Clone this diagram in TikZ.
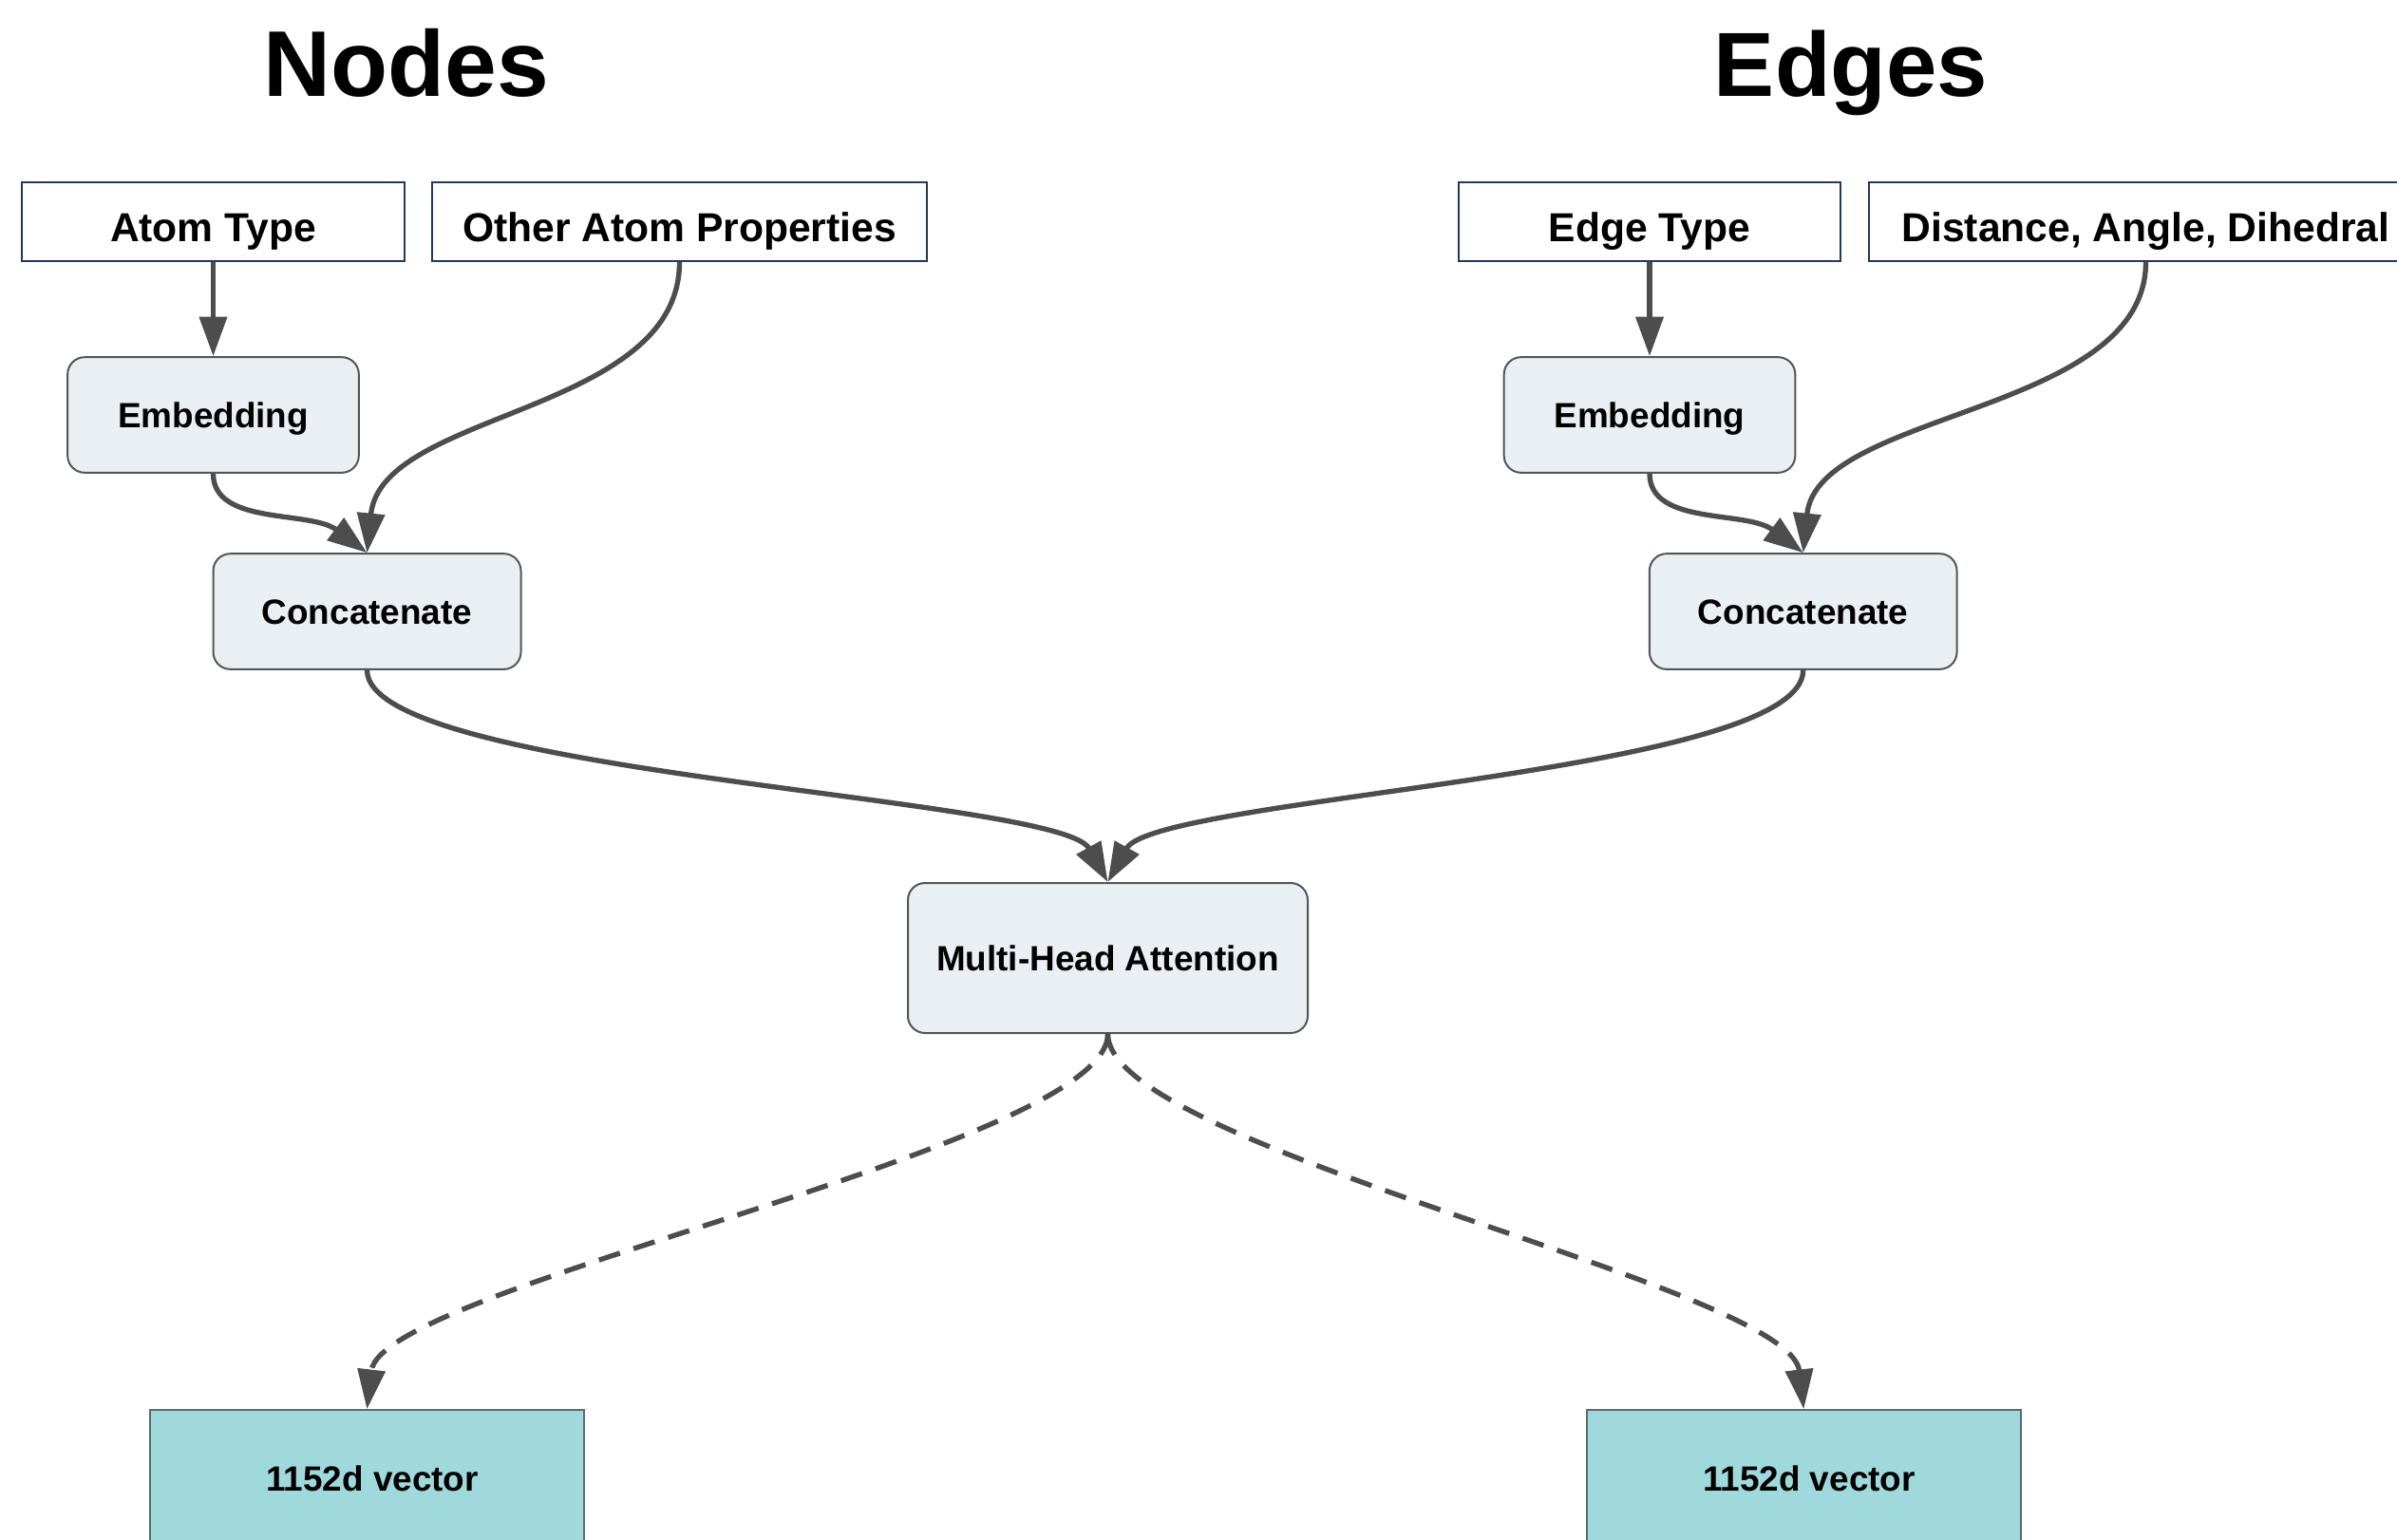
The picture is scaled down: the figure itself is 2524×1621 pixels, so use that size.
\documentclass[tikz,border=0pt]{standalone}
\usepackage{fontspec}
\setmainfont{Liberation Sans}
\usetikzlibrary{arrows.meta}
\definecolor{topborder}{HTML}{24385B}
\definecolor{rfill}{HTML}{E9EFF2}
\definecolor{rborder}{HTML}{555555}
\definecolor{vfill}{HTML}{A0D9DC}
\definecolor{vborder}{HTML}{5F6B6B}
\definecolor{edgecol}{HTML}{4D4D4D}
\tikzset{
  topbox/.style={draw=topborder, fill=white, line width=0.6pt, inner sep=0pt,
    minimum height=24.9pt, text height=12.3pt, text depth=0pt,
    font=\fontsize{12.78pt}{15pt}\selectfont\bfseries},
  rbox/.style={draw=rborder, fill=rfill, line width=0.6pt, rounded corners=5.4pt, inner sep=0pt,
    minimum height=36.5pt, text height=7.93pt, text depth=0pt,
    font=\fontsize{11.07pt}{13pt}\selectfont\bfseries},
  vbox/.style={draw=vborder, fill=vfill, line width=0.6pt, inner sep=0pt,
    minimum width=137.2pt, minimum height=43.2pt, text height=7.93pt, text depth=0pt,
    font=\fontsize{11.07pt}{13pt}\selectfont\bfseries},
  title/.style={anchor=base, inner sep=0pt, font=\fontsize{29.5pt}{34pt}\selectfont\bfseries},
  conn/.style={draw=edgecol, line width=1.6pt, -{Triangle[length=12.5pt,width=8.6pt]}},
  dconn/.style={conn, dash pattern=on 7pt off 4.5pt},
}
\begin{document}
\begin{tikzpicture}[x=0.3pt, y=-0.3pt]
\useasboundingbox (0,0) rectangle (2524,1621);
\clip (0,0) rectangle (2524,1621);
% titles
\node[title] (tnodes) at (428,101.4) {Nodes};
\node[title, font=\fontsize{28.8pt}{34pt}\selectfont\bfseries] (tedges) at (1949,101.4) {Edges};
% top inputs
\node[topbox, minimum width=120.9pt] (at) at (224.5,233.5) {Atom Type};
\node[topbox, minimum width=156.3pt] (oap) at (715.5,233.5) {Other Atom Properties};
\node[topbox, minimum width=120.6pt] (et) at (1737,233.5) {Edge Type};
\node[topbox, minimum width=174.9pt] (dad) at (2259.5,233.5) {Distance, Angle, Dihedral};
% rounded boxes
\node[rbox, minimum width=92pt] (emb1) at (224.5,437) {Embedding};
\node[rbox, minimum width=97.2pt] (cat1) at (386.5,644) {Concatenate};
\node[rbox, minimum width=92pt] (emb2) at (1737,437) {Embedding};
\node[rbox, minimum width=97.1pt] (cat2) at (1898.7,644) {Concatenate};
\node[rbox, minimum width=126.3pt, minimum height=47.4pt] (mha) at (1166.5,1009) {Multi-Head Attention};
% outputs
\node[vbox] (v1) at (386.4,1557) {\hspace*{3.4pt}1152d vector};
\node[vbox] (v2) at (1899.3,1557) {\hspace*{3.4pt}1152d vector};
% connectors
\draw[conn] (at.south) -- (emb1.north);
\draw[conn] (et.south) -- (emb2.north);
\draw[conn] (emb1.south) .. controls +(0,55) and +(-60,-45) .. (cat1.north);
\draw[conn] (emb2.south) .. controls +(0,55) and +(-60,-45) .. (cat2.north);
\draw[conn] (oap.south) .. controls +(0,160) and +(15,-150) .. (cat1.north);
\draw[conn] (dad.south) .. controls +(0,160) and +(15,-150) .. (cat2.north);
\draw[conn] (cat1.south) .. controls +(0,110) and +(-50,-90) .. (mha.north);
\draw[conn] (cat2.south) .. controls +(0,110) and +(50,-90) .. (mha.north);
\draw[dconn] (mha.south) .. controls +(0,120) and +(15,-130) .. (v1.north);
\draw[dconn] (mha.south) .. controls +(0,120) and +(-15,-130) .. (v2.north);
\end{tikzpicture}
\end{document}
